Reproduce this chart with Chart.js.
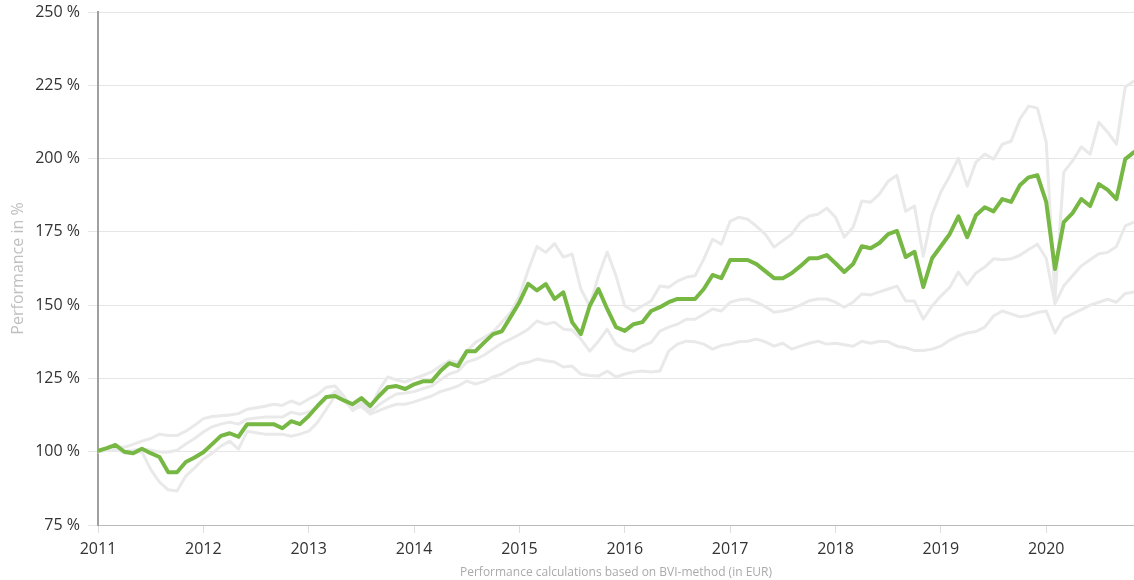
<!DOCTYPE html>
<html><head><meta charset="utf-8">
<script src="https://cdn.jsdelivr.net/npm/chart.js@4.4.1/dist/chart.umd.min.js"></script>
<style>html,body{margin:0;padding:0;background:#fff;}canvas{display:block;}</style>
</head><body>
<canvas id="c" width="1134" height="580"></canvas>
<script>
// ---- data (monthly, Jan 2011 .. Nov 2020) ----
const yearLabels = ['2011','2012','2013','2014','2015','2016','2017','2018','2019','2020'];
const yTickValues = [75,100,125,150,175,200,225,250];

const fund = [
100.3,101.2,102.3,100,99.5,101,99.5,98.2,93,93,96.5,98,
99.8,102.6,105.4,106.3,105.1,109.4,109.4,109.4,109.4,108,110.4,109.4,
112.2,115.6,118.7,119,117.5,116.2,118.3,115.6,119,122,122.4,121.4,
123,124,124,127.5,130.2,129.2,134.3,134.3,137.3,140.1,141.1,146,
151,157.3,155,157.2,152.1,154.4,144.2,140.1,149.7,155.5,148.7,142.5,
141.2,143.5,144.2,148,149.3,151,152.1,152.1,152.1,155.5,160.3,159.2,
165.4,165.4,165.4,164,161.6,159.2,159.2,160.9,163.3,166,166,167.1,
164.3,161.3,164,170.1,169.4,171.2,174.2,175.3,166.4,168.2,156.2,166,
170.1,174.2,180.3,173.2,180.7,183.4,182,186.2,185.2,190.9,193.6,194.3,
185.2,162.3,178.3,181.4,186.2,183.8,191.3,189.3,186.2,199.8,202.2
];
const upperBand = [
100,101,101.8,101.5,102.5,103.6,104.5,106,105.5,105.5,107,109,
111.3,112,112.3,112.5,113,114.5,115,115.5,116.2,115.8,117.3,116.2,
118,119.5,122,122.4,119,114.6,116.9,114.6,121,125.5,124.5,123.8,
125,126,127.2,129.2,131,130.5,134.3,137.3,139,140.8,144.2,147.6,
153,162,170,168,171,166.4,167.4,155.5,149.7,160,168.1,160,
149.7,148,149.7,151.4,156.5,156.1,158.2,159.5,160,165.7,172.5,170.8,
178.6,180,179.3,176.9,174.2,169.8,172,174.2,178.3,180.4,181,183.1,
180,173.2,176.6,185.5,185.1,187.9,192.3,194.3,182,183.8,166.7,181,
188.6,194,200.1,190.6,198.8,201.5,199.8,204.9,205.9,213.5,217.9,217.2,
205.6,152.5,195.4,199.2,204,201.5,212.4,209,204.9,224.4,226.5
];
const midBand = [
100,100.5,100.5,100.2,100.5,100.9,100.5,99.9,99.9,100.5,102.6,104.5,
106.7,108.5,109.4,110.1,109.4,111.1,111.5,111.8,111.8,111.8,113.5,112.8,
113.5,115.2,118,120.5,118.5,114,116,113.5,116,118,119.7,120,
120.5,121.5,122.4,124.5,126.5,127.5,130.6,131.5,133,135,137,138.4,
140,141.8,144.6,143.5,144.2,141.8,141.5,138.4,134.3,137.7,141.8,136.7,
135,134.3,136,137.3,141.1,142.5,143.5,145.2,145.2,146.9,148.7,148,
151,151.8,152.1,151,149.5,147.6,148,148.7,150,151.5,152.1,152.1,
151,149.3,151,153.8,153.5,154.5,155.5,156.5,151.4,151.4,145.2,149.7,
153.1,156,161.3,157,161,163,165.8,165.5,165.8,167,169,170.8,
166,150.5,156.6,160,163.4,165.5,167.5,168,170,177,178.3
];
const lowerBand = [
100,100.5,101,99.5,99.5,100,94,89.6,87,86.6,91.7,94.5,
97.5,99.5,101.9,103.6,100.9,107,106.5,106,106,106,105.3,106,
107,110,114.5,119,117.5,114.5,115.5,112.8,114,115.2,116.2,116.2,
117,118,119,120.5,121.4,122.4,124.1,123.1,124,125.5,126.5,128.2,
129.9,130.5,131.6,131,130.6,128.9,129.2,126.5,126,125.8,127.5,125.5,
126.5,127.2,127.5,127.2,127.5,134.3,136.7,137.7,137.5,136.7,135,136.2,
136.7,137.5,137.7,138.4,137.5,136,137,135,136,137,137.7,136.7,
137,136.5,136,137.7,137,137.7,137.5,136,135.5,134.5,134.5,135,
136,138,139.5,140.5,141,142.5,146.3,148,147,146,146.5,147.5,
148,140.5,145.5,147,148.5,150,151,152,151,154,154.5
];

const FONT = 'Open Sans';
const toPts = arr => arr.map((v, i) => ({x: i, y: v}));
const line = (arr, color, w) => ({
  data: toPts(arr), borderColor: color, borderWidth: w,
  pointRadius: 0, tension: 0, fill: false,
  borderJoinStyle: 'round', borderCapStyle: 'round'
});

new Chart(document.getElementById('c'), {
  type: 'line',
  data: {
    datasets: [
      line(fund, '#76b843', 4),
      line(upperBand, '#e9e9e9', 3),
      line(midBand, '#e9e9e9', 3),
      line(lowerBand, '#e9e9e9', 3)
    ]
  },
  options: {
    responsive: false,
    animation: false,
    layout: {padding: {top: 12, right: 0, left: 0, bottom: 0}},
    plugins: {legend: {display: false}, tooltip: {enabled: false}},
    scales: {
      x: {
        type: 'linear',
        min: 0,
        max: fund.length - 1,
        afterBuildTicks: s => { s.ticks = yearLabels.map((_, k) => ({value: k * 12})); },
        afterFit: s => { s.height = 55; s.paddingLeft = 0; s.paddingRight = 0; },
        ticks: {
          callback: v => yearLabels[Math.round(v / 12)],
          color: '#333', font: {family: FONT, size: 16},
          padding: 7, maxRotation: 0, autoSkip: false
        },
        grid: {drawOnChartArea: false, drawTicks: true, tickLength: 8, color: '#dddddd'},
        border: {color: '#bbbbbb', width: 1},
        title: {
          display: true, text: 'Performance calculations based on BVI-method (in EUR)',
          color: '#aaaaaa', font: {family: FONT, size: 12}, padding: {top: 0, bottom: 0}
        }
      },
      y: {
        min: 75,
        max: 250,
        afterBuildTicks: s => { s.ticks = yTickValues.map(v => ({value: v})); },
        afterFit: s => { s.width = 98; s.paddingTop = 0; s.paddingBottom = 0; },
        ticks: {
          callback: v => v + ' %',
          color: '#333', font: {family: FONT, size: 16}, padding: 8
        },
        grid: {color: '#e6e6e6', lineWidth: 1, tickLength: 10},
        border: {color: '#a0a0a0', width: 2},
        title: {
          display: true, text: 'Performance in %',
          color: '#c0c0c0', font: {family: FONT, size: 16}, padding: {top: 9, bottom: 0}
        }
      }
    }
  }
});
</script>
</body></html>
